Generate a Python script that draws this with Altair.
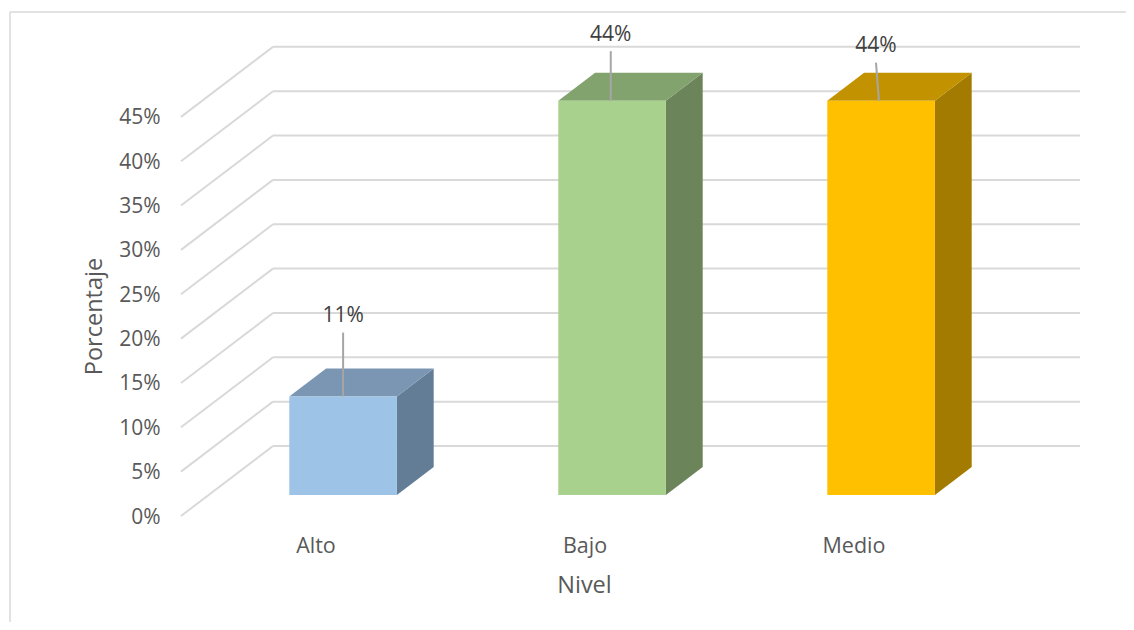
import json
import altair as alt
import pandas as pd

# ---- data ----
categories = ["Alto", "Bajo", "Medio"]
percent = [11.11, 44.44, 44.44]
tick_values = [0, 5, 10, 15, 20, 25, 30, 35, 40, 45]

# ---- styling ----
front_colors = ["#9DC3E6", "#A9D18E", "#FFC000"]
top_colors = ["#7A96B3", "#83A36E", "#C29200"]
side_colors = ["#647D97", "#6B8459", "#A37B00"]
GRID = "#D9D9D9"
LEADER = "#A6A6A6"
AXIS_TEXT = "#595959"
LABEL_TEXT = "#404040"
FONT = "Open Sans"
FS = 21

# ---- pseudo-3D projection: shift per unit of depth, in axis units ----
PLOT_W, PLOT_H = 899, 469
SLOT_PX = 269.0
PCT_PX = 8.87
DX = 92 / SLOT_PX
DY = 70 / PCT_PX
X_MAX = PLOT_W / SLOT_PX
Y_MAX = PLOT_H / PCT_PX
D0, D1 = 0.30, 0.70      # depth range occupied by the bars
BAR_W = 0.40
# data-label callouts, per bar: leader length (in %) and lean (in slots)
leader_len = [7.2, 5.6, 4.3]
leader_bottom_shift = [0.0, -0.005, -0.008]
leader_top_shift = [0.0, -0.005, -0.019]
LABEL_GAP = 1.85


def px(slot, depth):
    return slot + depth * DX


def py(pct, depth):
    return pct + depth * DY


xs = alt.Scale(domain=[0, X_MAX], nice=False, zero=False)
ys = alt.Scale(domain=[0, Y_MAX], nice=False, zero=False)

cat_expr = json.dumps(categories) + "[floor(datum.value)]"
x_axis = alt.Axis(
    values=[0.5, 1.5, 2.5],
    labelExpr=cat_expr,
    labelAngle=0,
    labelFont=FONT,
    labelFontSize=21.5,
    labelColor=AXIS_TEXT,
    labelPadding=30,
    labelBaseline="middle",
    domain=False,
    ticks=False,
    grid=False,
    title="Nivel",
    titleFont=FONT,
    titleFontSize=23.5,
    titleFontWeight="normal",
    titleColor=AXIS_TEXT,
    titleX=403,
    titleY=69,
    titleBaseline="middle",
    titleAlign="center",
)
y_axis = alt.Axis(
    values=tick_values,
    labelExpr="datum.value + '%'",
    labelFont=FONT,
    labelFontSize=FS,
    labelColor=AXIS_TEXT,
    labelPadding=21,
    labelOffset=1,
    domain=False,
    ticks=False,
    grid=False,
    title="Porcentaje",
    titleFont=FONT,
    titleFontSize=23.5,
    titleFontWeight="normal",
    titleColor=AXIS_TEXT,
    titleX=-87,
    titleY=269,
    titleBaseline="middle",
    titleAlign="center",
    titleAngle=270,
)
X = alt.X("x:Q", scale=xs, axis=x_axis)
Y = alt.Y("y:Q", scale=ys, axis=y_axis)

# grid: diagonal side wall + back wall lines
grid_rows = []
for t in tick_values:
    grid_rows.append(dict(x=0, x2=px(0, 1), y=t, y2=py(t, 1)))
    grid_rows.append(dict(x=px(0, 1), x2=X_MAX, y=py(t, 1), y2=py(t, 1)))

grid = alt.Chart(pd.DataFrame(grid_rows)).mark_rule(color=GRID, strokeWidth=2).encode(
    x=X, x2="x2:Q", y=Y, y2="y2:Q"
)

front_rows, top_rows, side_rows, leader_rows, label_rows = [], [], [], [], []
for i, (cat, v) in enumerate(zip(categories, percent)):
    left = i + 0.5 - BAR_W / 2
    right = i + 0.5 + BAR_W / 2
    front_rows.append(dict(x=px(left, D0), x2=px(right, D0), y=py(0, D0), y2=py(v, D0), c=front_colors[i]))
    for d in (D0, D1):
        top_rows.append(dict(y=py(v, d), x=px(left, d), x2=px(right, d), c=top_colors[i]))
        side_rows.append(dict(x=px(right, d), y=py(0, d), y2=py(v, d), c=side_colors[i]))
    mid = (left + right) / 2
    base = py(v, D0)
    tip_x = px(mid, D0) + leader_top_shift[i]
    leader_rows.append(dict(x=px(mid, D0) + leader_bottom_shift[i], x2=tip_x, y=base, y2=base + leader_len[i]))
    label_rows.append(dict(x=tip_x, y=base + leader_len[i] + LABEL_GAP, v=v / 100))

front = alt.Chart(pd.DataFrame(front_rows)).mark_rect().encode(
    x=X, x2="x2:Q", y=Y, y2="y2:Q", color=alt.Color("c:N", scale=None)
)
top = alt.Chart(pd.DataFrame(top_rows)).mark_area(orient="horizontal").encode(
    y=Y, x=X, x2="x2:Q", color=alt.Color("c:N", scale=None)
)
side = alt.Chart(pd.DataFrame(side_rows)).mark_area(orient="vertical").encode(
    x=X, y=Y, y2="y2:Q", color=alt.Color("c:N", scale=None)
)
leaders = alt.Chart(pd.DataFrame(leader_rows)).mark_rule(color=LEADER, strokeWidth=2).encode(
    x=X, x2="x2:Q", y=Y, y2="y2:Q"
)
labels = alt.Chart(pd.DataFrame(label_rows)).mark_text(
    font=FONT, fontSize=FS, color=LABEL_TEXT, baseline="middle", align="center"
).encode(
    x=X, y=Y, text=alt.Text("v:Q", format=".0%")
)

# outer frame of the picture
frame_left = alt.Chart().mark_rule(color=GRID, strokeWidth=1.5).encode(
    x=alt.value(-171), y=alt.value(-35), y2=alt.value(575)
)
frame_top = alt.Chart().mark_rule(color=GRID, strokeWidth=1.5).encode(
    y=alt.value(-35), x=alt.value(-171), x2=alt.value(945)
)

chart = (
    alt.layer(grid, side, top, front, leaders, labels, frame_left, frame_top)
    .properties(
        width=PLOT_W,
        height=PLOT_H,
        autosize="none",
        padding={"left": 173, "top": 39, "right": 46, "bottom": 106},
    )
    .configure_view(stroke=None)
)

chart.save("out.html", embed_options={"renderer": "svg", "actions": False})
